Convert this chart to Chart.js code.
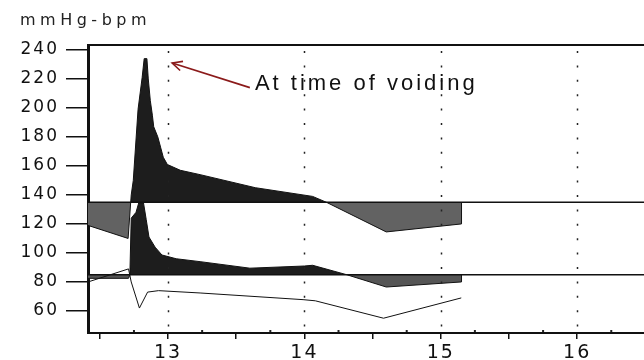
<!DOCTYPE html>
<html>
<head>
<meta charset="utf-8">
<script src="https://cdn.jsdelivr.net/npm/chart.js@4"></script>
<style>
  body { margin: 0; background: #fff; }
  #wrap { width: 644px; height: 360px; }
</style>
</head>
<body>
<div id="wrap"><canvas id="myChart"></canvas></div>
<script>
'use strict';

// time (x) and mmHg-bpm (y)
const upperBase = 135;
const middleBase = 85;

const upperX = [12.413, 12.707, 12.73, 12.745, 12.76, 12.78, 12.81, 12.825, 12.845, 12.855, 12.87, 12.885, 12.895, 12.925, 12.945, 12.965, 12.995, 13.09, 13.235, 13.64, 14.06, 14.16, 14.6, 15.15, 15.152];
const upperY = [119, 110, 140, 150, 171, 199, 221, 234, 234, 220, 205, 195, 187, 180, 173, 166, 161, 157, 154, 145, 139, 135, 114.5, 120, 135];

const middleX = [12.413, 12.71, 12.72, 12.73, 12.765, 12.785, 12.82, 12.84, 12.86, 12.905, 12.955, 13.06, 13.235, 13.6, 14.0, 14.06, 14.31, 14.6, 15.15, 15.152];
const middleY = [82.5, 82.5, 85, 124, 128, 134.5, 134.5, 123, 111, 104, 98.6, 96, 94, 89.5, 91, 91.5, 85, 76.5, 80, 85];

const lowerX = [12.413, 12.71, 12.73, 12.79, 12.85, 12.93, 13.235, 13.99, 14.08, 14.58, 15.15];
const lowerY = [80, 89, 80, 62, 73, 74, 72.4, 67.8, 67, 55, 69];

const xMin = 12.413;
const xMax = 16.49;
const yMin = 44.8;
const yMax = 243.4;

const yTicks = [60, 80, 100, 120, 140, 160, 180, 200, 220, 240];
const xTicks = [12.5, 13, 13.5, 14, 14.5, 15, 15.5, 16];
const dottedAt = [13, 14, 15, 16];

const unitLabel = 'mmHg-bpm';
const noteText = 'At time of voiding';
const notePoint = { x: 13.03, y: 231 };   // arrow tip
const noteTail = { x: 13.6, y: 214 };


function toPoints(xs, ys) {
  let pts = [];
  for (let i = 0; i < xs.length; i++) {
    pts.push({ x: xs[i], y: ys[i] });
  }
  return pts;
}

const extras = {
  id: 'extras',
  beforeUpdate(chart) {
    chart.ctx.letterSpacing = '2px';
  },
  beforeDraw(chart) {
    chart.ctx.letterSpacing = '2px';
  },
  afterDatasetsDraw(chart) {
    const ctx = chart.ctx;
    const area = chart.chartArea;
    const xs = chart.scales.x;

    ctx.save();
    // dotted verticals
    ctx.strokeStyle = '#222';
    ctx.lineWidth = 1.5;
    ctx.setLineDash([2, 12.4]);
    ctx.lineDashOffset = -6;
    dottedAt.forEach(v => {
      const px = Math.round(xs.getPixelForValue(v)) + 0.5;
      ctx.beginPath();
      ctx.moveTo(px, area.top);
      ctx.lineTo(px, area.bottom);
      ctx.stroke();
    });
    ctx.setLineDash([]);

    // little dots on the time axis
    ctx.fillStyle = '#222';
    for (let v = 12.75; v < xMax; v += 0.5) {
      ctx.fillRect(xs.getPixelForValue(v) - 1, area.bottom - 3, 2, 2);
    }

    // top frame line
    ctx.strokeStyle = '#111';
    ctx.lineWidth = 2;
    ctx.beginPath();
    ctx.moveTo(area.left, area.top);
    ctx.lineTo(area.right, area.top);
    ctx.stroke();
    ctx.restore();
  },
  afterDraw(chart) {
    const ctx = chart.ctx;
    const xs = chart.scales.x;
    const ys = chart.scales.y;

    ctx.save();
    ctx.fillStyle = '#222';
    ctx.font = '16px "DejaVu Sans"';
    ctx.letterSpacing = '4.5px';
    ctx.textAlign = 'left';
    ctx.textBaseline = 'alphabetic';
    ctx.fillText(unitLabel, 20, 25);

    // arrow
    const tx = xs.getPixelForValue(notePoint.x);
    const ty = ys.getPixelForValue(notePoint.y);
    const sx = xs.getPixelForValue(noteTail.x);
    const sy = ys.getPixelForValue(noteTail.y);
    ctx.strokeStyle = '#8b1a1a';
    ctx.lineWidth = 1.6;
    ctx.beginPath();
    ctx.moveTo(sx, sy);
    ctx.lineTo(tx, ty);
    ctx.stroke();
    const ang = Math.atan2(sy - ty, sx - tx);
    ctx.beginPath();
    ctx.moveTo(tx + 11 * Math.cos(ang - 0.45), ty + 11 * Math.sin(ang - 0.45));
    ctx.lineTo(tx, ty);
    ctx.lineTo(tx + 11 * Math.cos(ang + 0.45), ty + 11 * Math.sin(ang + 0.45));
    ctx.stroke();

    ctx.fillStyle = '#111';
    ctx.font = '22px "Liberation Sans", Arial, sans-serif';
    ctx.letterSpacing = '3px';
    ctx.fillText(noteText, sx + 5, sy + 2);
    ctx.restore();
  }
};

const ctx = document.getElementById('myChart').getContext('2d');
const chart = new Chart(ctx, {
  type: 'line',
  data: {
    datasets: [
      {
        data: toPoints([xMin, xMax], [upperBase, upperBase]),
        borderColor: '#111',
        borderWidth: 1.5,
        fill: false
      },
      {
        data: toPoints([xMin, xMax], [middleBase, middleBase]),
        borderColor: '#111',
        borderWidth: 1.5,
        fill: false
      },
      {
        data: toPoints(lowerX, lowerY),
        borderColor: '#111',
        borderWidth: 1,
        fill: false
      },
      {
        data: toPoints(upperX, upperY),
        borderColor: '#111',
        borderWidth: 1,
        fill: { target: { value: upperBase }, above: '#1d1d1d', below: '#626262' }
      },
      {
        data: toPoints(middleX, middleY),
        borderColor: '#111',
        borderWidth: 1,
        fill: { target: { value: middleBase }, above: '#1d1d1d', below: '#555555' }
      }
    ]
  },
  options: {
    responsive: true,
    maintainAspectRatio: false,
    animation: false,
    layout: { padding: { top: 45, left: 0, right: 0, bottom: 0 } },
    elements: { point: { radius: 0 }, line: { tension: 0 } },
    plugins: {
      legend: { display: false },
      title: { display: false },
      tooltip: { enabled: false }
    },
    scales: {
      x: {
        type: 'linear',
        min: xMin,
        max: xMax,
        afterBuildTicks: scale => { scale.ticks = xTicks.map(v => ({ value: v })); },
        afterFit: scale => { scale.height = 27; },
        ticks: {
          autoSkip: false,
          maxRotation: 0,
          padding: 3,
          color: '#111',
          font: { family: 'DejaVu Sans', size: 19 },
          callback: v => (Number.isInteger(v) ? String(v) : '')
        },
        grid: { drawOnChartArea: false, tickLength: 6, color: '#111', lineWidth: 1.5 },
        border: { display: true, color: '#111', width: 2 }
      },
      y: {
        type: 'linear',
        min: yMin,
        max: yMax,
        afterBuildTicks: scale => { scale.ticks = yTicks.map(v => ({ value: v })); },
        afterFit: scale => { scale.width = 88; },
        ticks: {
          padding: 7,
          color: '#111',
          font: { family: 'DejaVu Sans', size: 17 }
        },
        grid: { drawOnChartArea: false, tickLength: 22, color: '#111', lineWidth: 1.5 },
        border: { display: true, color: '#111', width: 3 }
      }
    }
  },
  plugins: [extras]
});
</script>
</body>
</html>
